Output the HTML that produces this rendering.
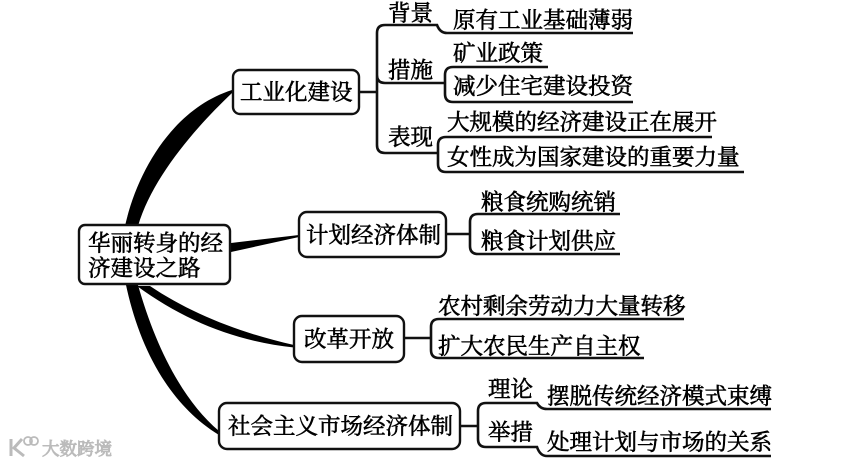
<!DOCTYPE html>
<html><head><meta charset="utf-8"><style>
html,body{margin:0;padding:0;background:#fff;width:854px;height:464px;overflow:hidden}
svg{display:block}
text{font-family:"Liberation Serif","Noto Serif CJK SC",serif;font-size:22.5px;fill:#000;stroke:#000;stroke-width:.6px}
.l{fill:none;stroke:#111;stroke-width:2.6}
.b{fill:#fff;stroke:#111;stroke-width:2.4}
.t{fill:#000;stroke:none}
</style></head><body>
<svg width="854" height="464" viewBox="0 0 854 464" xmlns="http://www.w3.org/2000/svg">
<path class="t" d="M125,226C138,168 175,108 232,90L232,93C195,128 152,178 138,226Z"/>
<path class="t" d="M231,243L299,235L299,237L231,252Z"/>
<path class="t" d="M137,286L150,286C190,313 240,333 294,345L294,347.5C235,341 185,321 137,286Z"/>
<path class="t" d="M126,285L138,285C155,345 182,400 219,431L219,435C170,405 140,350 126,285Z"/>
<rect class="b" x="79" y="225" width="151" height="59" rx="6"/>
<rect class="b" x="233" y="70" width="126" height="44" rx="7"/>
<rect class="b" x="299" y="212" width="147" height="45" rx="8"/>
<rect class="b" x="294" y="316" width="110" height="46" rx="8"/>
<rect class="b" x="219" y="403" width="241" height="46" rx="8"/>
<path class="l" d="M359,92H377M377,33V145Q377,153 385,153H438M377,33Q377,25 385,25H437Q440,33 447,33H633M377,75Q377,83 385,83H445M445,75V94Q445,102 453,102H633M445,75Q445,67 453,67H548M438,145V164Q438,172 446,172H744M438,145Q438,137 446,137H712"/>
<path class="l" d="M446,234H470M470,222V246Q470,254 478,254H620M470,222Q470,214 478,214H620"/>
<path class="l" d="M404,338H431M431,327V350Q431,358 439,358H644M431,327Q431,319 439,319H684"/>
<path class="l" d="M460,426H478M478,411V439Q478,447 486,447H537Q540,456 547,456H771M478,411Q478,403 486,403H537Q540,409 547,409H771"/>
<text x="88" y="251">华丽转身的经</text>
<text x="88" y="276">济建设之路</text>
<text x="240" y="100">工业化建设</text>
<text x="306" y="243">计划经济体制</text>
<text x="304" y="347">改革开放</text>
<text x="228" y="434">社会主义市场经济体制</text>
<text x="388" y="21">背景</text>
<text x="453" y="28">原有工业基础薄弱</text>
<text x="453" y="61">矿业政策</text>
<text x="388" y="78">措施</text>
<text x="453" y="94">减少住宅建设投资</text>
<text x="447" y="130">大规模的经济建设正在展开</text>
<text x="388" y="145">表现</text>
<text x="447" y="165">女性成为国家建设的重要力量</text>
<text x="481" y="210">粮食统购统销</text>
<text x="481" y="249">粮食计划供应</text>
<text x="438" y="314">农村剩余劳动力大量转移</text>
<text x="438" y="354">扩大农民生产自主权</text>
<text x="488" y="397">理论</text>
<text x="547" y="404">摆脱传统经济模式束缚</text>
<text x="488" y="440">举措</text>
<text x="547" y="450">处理计划与市场的关系</text>
<g>
<path d="M11,439V456M22,439L14,448L24,456" fill="none" stroke="#bbb" stroke-width="3"/>
<circle cx="28" cy="441" r="4" fill="none" stroke="#bbb" stroke-width="1.8"/>
<circle cx="34" cy="441" r="4" fill="none" stroke="#bbb" stroke-width="1.8"/>
<text x="42" y="455" style="font-size:17.5px;fill:#bbb;stroke:#bbb;stroke-width:.9px">大数跨境</text>
</g>
</svg>
</body></html>
